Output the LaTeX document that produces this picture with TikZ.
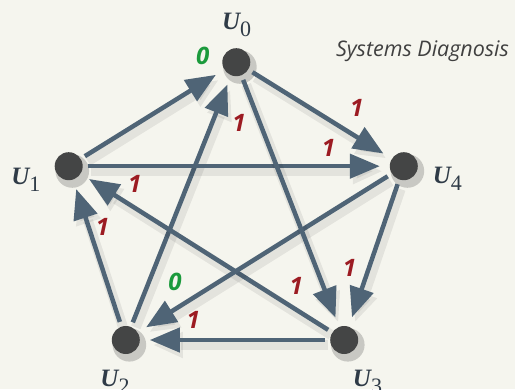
\documentclass[tikz,border=0pt]{standalone}
\usepackage{fontspec}
\newfontfamily\lblfont{Open Sans}
\newfontfamily\vfont{Liberation Serif}
\usepackage{tikz}
\usetikzlibrary{arrows.meta, positioning, calc, shadows}

\definecolor{bgcream}{HTML}{F5F5EE}
\definecolor{edgeblue}{HTML}{4F6476}
\definecolor{unitgray}{HTML}{444545}
\definecolor{okgreen}{HTML}{1B9A3C}
\definecolor{badred}{HTML}{9C1B22}
\definecolor{vtext}{HTML}{2F3B47}

% vertex name: bold italic U with a large lowered index
\newcommand{\uname}[1]{{\bfseries\itshape U}\raisebox{-7pt}{\fontsize{22}{22}\selectfont #1}}

\begin{document}
\begin{tikzpicture}[
            x=1pt, y=1pt,
            unit/.style={
                circle,
                fill=unitgray,
                minimum size=28pt,
                inner sep=0pt,
                outer sep=0pt,
                drop shadow={shadow xshift=3pt, shadow yshift=-4pt,
                    shadow scale=1.2, opacity=0.18, fill=black}
            },
            every edge/.style={
                draw=edgeblue,
                line width=4.5pt,
                shorten >=10pt,
                shorten <=5pt,
                -{Triangle[length=30pt, width=24pt]}, % big flat heads
                preaction={draw=black, draw opacity=0.07, fill opacity=0.07,
                    line width=10pt, transform canvas={shift={(3pt,-5pt)}}}
            },
            verdict/.style={inner sep=0pt, font=\lblfont\bfseries\itshape\fontsize{24}{24}\selectfont},
            ok/.style={verdict, text=okgreen},
            bad/.style={verdict, text=badred},
            vlab/.style={inner sep=0pt, text=vtext, font=\vfont\fontsize{25}{30}\selectfont}
        ]
        \fill[bgcream] (0,0) rectangle (515,389);
        \useasboundingbox (0,0) rectangle (515,389);

        % the five units on a pentagon
        \node[unit] (u0) at (236.3,326.8) {};
        \node[unit] (u1) at (68.7,222.8) {};
        \node[unit] (u4) at (403.8,222.8) {};
        \node[unit] (u2) at (125.8,49) {};
        \node[unit] (u3) at (344.2,49) {};

        \node[vlab] (n0) at ($(u0)+(0.4,37.5)$) {\uname{0}};
        \node[vlab] (n1) at ($(u1)+(-42.9,-13.8)$) {\uname{1}};
        \node[vlab] (n4) at ($(u4)+(43.5,-13)$) {\uname{4}};
        \node[vlab] (n2) at ($(u2)+(-10.8,-41.7)$) {\uname{2}};
        \node[vlab] (n3) at ($(u3)+(23.3,-42)$) {\uname{3}};

        \node[text=black!75, inner sep=0pt, font=\lblfont\itshape\fontsize{21.5}{24}\selectfont]
            (title) at (422.5,338) {Systems Diagnosis};

        \path
            (u1) edge node[ok, pos=0.85, above=16pt] {0} (u0)
            (u2) edge node[bad, pos=0.81, right=18pt] {1} (u0)
            (u0) edge node[bad, pos=0.755, above=18pt] {1} (u4)
            (u1) edge node[bad, pos=0.80, above=7pt] {1} (u4)
            (u3) edge node[bad, pos=0.785, above=13pt] {1} (u1)
            (u2) edge node[bad, pos=0.68, right=5pt] {1} (u1)
            (u4) edge node[ok, pos=0.853, above=16.5pt] {0} (u2)
            (u0) edge node[bad, pos=0.836, left=18pt] {1} (u3)
            (u4) edge node[bad, pos=0.60, left=10.5pt] {1} (u3)
            (u3) edge node[bad, pos=0.72, above=9.5pt] {1} (u2);
    \end{tikzpicture}
\end{document}
